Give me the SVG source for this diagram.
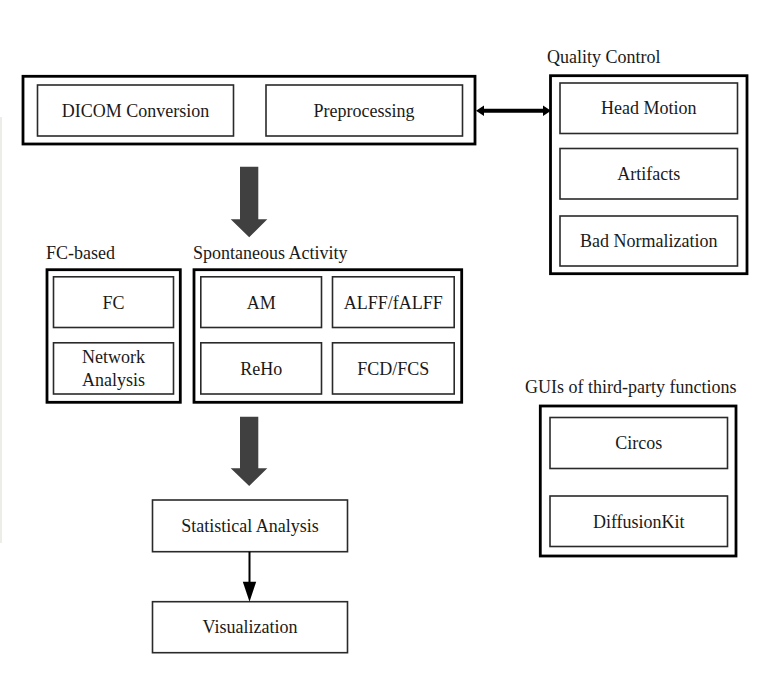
<svg xmlns="http://www.w3.org/2000/svg" width="780" height="683" viewBox="0 0 780 683">
<style>
  .outer{fill:none;stroke:#000;stroke-width:2.8}
  .inner{fill:#fff;stroke:#2a2a2a;stroke-width:1.6}
  .t{font-family:"Liberation Serif","Times New Roman",serif;font-size:18px;fill:#1a1a1a}
  .c{text-anchor:middle}
  .big{fill:#404040}
  .conn{fill:#000}
</style>
<rect x="0" y="0" width="780" height="683" fill="#fff"/>
<rect x="0" y="117" width="2" height="426" fill="#ececE8"/>

<g id="top-group">
  <rect class="outer" x="23" y="76.3" width="452" height="67.7"/>
  <g id="dicom">
    <rect class="inner" x="37.5" y="85" width="196" height="51"/>
    <text class="t c" x="135.5" y="117">DICOM Conversion</text>
  </g>
  <g id="preprocessing">
    <rect class="inner" x="266" y="85" width="196.5" height="51"/>
    <text class="t c" x="364" y="117">Preprocessing</text>
  </g>
</g>

<g id="quality-control">
  <text class="t" x="547" y="63">Quality Control</text>
  <rect class="outer" x="550.5" y="75.7" width="196.5" height="198"/>
  <g id="head-motion">
    <rect class="inner" x="560" y="83" width="177.5" height="50.5"/>
    <text class="t c" x="648.8" y="114">Head Motion</text>
  </g>
  <g id="artifacts">
    <rect class="inner" x="560" y="148.5" width="177.5" height="50.5"/>
    <text class="t c" x="648.8" y="180">Artifacts</text>
  </g>
  <g id="bad-normalization">
    <rect class="inner" x="560" y="216" width="177.5" height="50"/>
    <text class="t c" x="648.8" y="247">Bad Normalization</text>
  </g>
</g>

<g id="fc-based">
  <text class="t" x="46" y="259">FC-based</text>
  <rect class="outer" x="47" y="269.7" width="133.3" height="132.6"/>
  <g id="fc">
    <rect class="inner" x="53.5" y="276.8" width="120" height="50.7"/>
    <text class="t c" x="113.5" y="309">FC</text>
  </g>
  <g id="network-analysis">
    <rect class="inner" x="53.5" y="342.8" width="120" height="51.2"/>
    <text class="t c" x="113.5" y="363">Network</text>
    <text class="t c" x="113.5" y="386">Analysis</text>
  </g>
</g>

<g id="spontaneous-activity">
  <text class="t" x="193" y="259">Spontaneous Activity</text>
  <rect class="outer" x="194" y="269.7" width="267.7" height="132.6"/>
  <g id="am">
    <rect class="inner" x="200.8" y="276.8" width="120.7" height="50.7"/>
    <text class="t c" x="261.2" y="309">AM</text>
  </g>
  <g id="alff">
    <rect class="inner" x="332.5" y="276.8" width="121.7" height="50.7"/>
    <text class="t c" x="393.3" y="309">ALFF/fALFF</text>
  </g>
  <g id="reho">
    <rect class="inner" x="200.8" y="342.8" width="120.7" height="51.2"/>
    <text class="t c" x="261.2" y="375">ReHo</text>
  </g>
  <g id="fcd">
    <rect class="inner" x="332.5" y="342.8" width="121.7" height="51.2"/>
    <text class="t c" x="393.3" y="375">FCD/FCS</text>
  </g>
</g>

<g id="gui-third-party">
  <text class="t" x="525" y="393">GUIs of third-party functions</text>
  <rect class="outer" x="540.3" y="406" width="195.7" height="150"/>
  <g id="circos">
    <rect class="inner" x="550" y="417.5" width="177.5" height="51"/>
    <text class="t c" x="638.8" y="449">Circos</text>
  </g>
  <g id="diffusionkit">
    <rect class="inner" x="550" y="496" width="177.5" height="50.5"/>
    <text class="t c" x="638.8" y="528">DiffusionKit</text>
  </g>
</g>

<g id="statistical-analysis">
  <rect class="inner" x="152.5" y="500" width="195" height="51.7"/>
  <text class="t c" x="250" y="532">Statistical Analysis</text>
</g>

<g id="visualization">
  <rect class="inner" x="152.5" y="601.7" width="195" height="51"/>
  <text class="t c" x="250" y="633">Visualization</text>
</g>

<g id="connectors">
  <path class="conn" d="M476,110.8 L484,105.5 L484,108.8 L543,108.8 L543,105.5 L551,110.8 L543,116 L543,112.8 L484,112.8 L484,116 Z"/>
  <path class="big" d="M240,166.7 L258.3,166.7 L258.3,219.3 L267.3,219.3 L249.2,237.3 L230.7,219.3 L240,219.3 Z"/>
  <path class="big" d="M240,416.7 L258.3,416.7 L258.3,468.3 L267.3,468.3 L249.2,486 L230.7,468.3 L240,468.3 Z"/>
  <line x1="249.5" y1="551.7" x2="249.5" y2="582" stroke="#000" stroke-width="2"/>
  <path class="conn" d="M242.8,581.7 L256.2,581.7 L249.5,601.7 Z"/>
</g>
</svg>
